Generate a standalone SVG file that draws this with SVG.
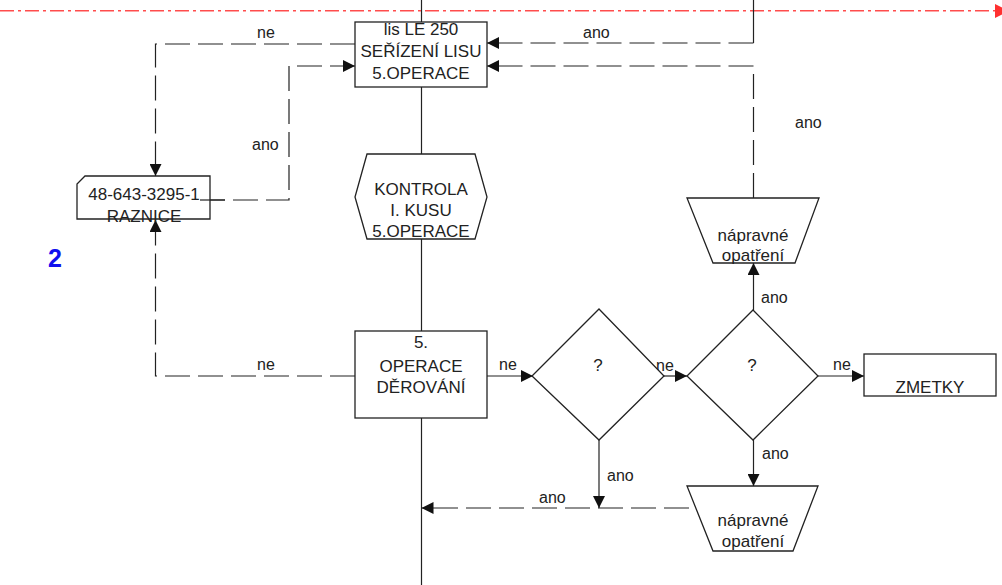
<svg xmlns="http://www.w3.org/2000/svg" width="1002" height="585" viewBox="0 0 1002 585">
<style>
.s{fill:#fff;stroke:#222;stroke-width:1.3}
.t{font-family:"Liberation Sans",Arial,sans-serif;font-size:17px;fill:#222;text-anchor:middle}
.l{font-family:"Liberation Sans",Arial,sans-serif;font-size:16px;fill:#222}
.c{fill:none;stroke:#222;stroke-width:1.2}
.d{fill:none;stroke:#222;stroke-width:1.2;stroke-dasharray:25 8}
.a{marker-end:url(#ah)}
</style>
<defs>
<marker id="ah" viewBox="0 0 12 12" refX="12" refY="6" markerWidth="12" markerHeight="12" markerUnits="userSpaceOnUse" orient="auto"><path d="M0,0 L12,6 L0,12 z" fill="#111"/></marker>
</defs>
<rect width="1002" height="585" fill="#fff"/>
<g id="connectors">
<line class="c" x1="421.5" y1="0" x2="421.5" y2="585"/>
<line x1="0" y1="10.7" x2="996" y2="10.7" stroke="#ff4d4d" stroke-width="1.5" stroke-dasharray="14 4 3 4"/>
<polygon points="995,4 1009,11 995,18" fill="#ff3030"/>
<line class="c" x1="753.5" y1="0" x2="753.5" y2="43"/>
<path class="d a" d="M753.5,43 H487"/>
<path class="d a" d="M753.5,198 V66 H487"/>
<path class="d a" d="M355,44 H155.5 V176"/>
<path class="d a" d="M200,200 H289 V66 H355"/>
<path class="d a" d="M355,376 H155.5 V220"/>
<path class="c a" d="M487,376 H533"/>
<path class="c a" d="M664,376 H687"/>
<path class="c a" d="M818,376 H864"/>
<path class="c a" d="M753.5,310 V263"/>
<path class="c a" d="M753.5,440 V486"/>
<path class="c a" d="M599,440 V508"/>
<path class="d a" d="M689,508 H421.5"/>
<text class="l" x="257" y="38">ne</text>
<text class="l" x="583" y="38">ano</text>
<text class="l" x="252" y="150">ano</text>
<text class="l" x="795" y="128">ano</text>
<text class="l" x="257" y="370">ne</text>
<text class="l" x="499" y="370">ne</text>
<text class="l" x="656" y="371">ne</text>
<text class="l" x="833" y="370">ne</text>
<text class="l" x="761" y="303">ano</text>
<text class="l" x="762" y="459">ano</text>
<text class="l" x="607" y="481">ano</text>
<text class="l" x="539" y="503">ano</text>
</g>
<g id="seriz">
<rect class="s" x="355" y="22" width="132" height="65"/>
<text class="t" x="421" y="35">lis LE 250</text>
<text class="t" x="421" y="57">SEŘÍZENÍ LISU</text>
<text class="t" x="421" y="79">5.OPERACE</text>
</g>
<g id="raznice">
<polygon class="s" points="85,176 210,176 210,219 77,219 77,184"/>
<text class="t" x="144" y="200">48-643-3295-1</text>
<text class="t" x="144" y="222">RAZNICE</text>
</g>
<line class="c" x1="200" y1="200" x2="225" y2="200"/>
<g id="kontrola">
<polygon class="s" points="367,154 475,154 487,197 475,239 367,239 355,197"/>
<text class="t" x="421" y="195">KONTROLA</text>
<text class="t" x="421" y="216">I. KUSU</text>
<text class="t" x="421" y="237">5.OPERACE</text>
</g>
<g id="derovani">
<rect class="s" x="355" y="331" width="132" height="87"/>
<text class="t" x="421" y="348">5.</text>
<text class="t" x="421" y="372">OPERACE</text>
<text class="t" x="421" y="393">DĚROVÁNÍ</text>
</g>
<g id="dec1">
<polygon class="s" points="599,309 664,376 599,440 532,376"/>
<text class="t" x="598" y="371">?</text>
</g>
<g id="dec2">
<polygon class="s" points="753,310 818,376 753,440 687,376"/>
<text class="t" x="752" y="371">?</text>
</g>
<g id="zmetky">
<rect class="s" x="864" y="354" width="132" height="42"/>
<text class="t" x="930" y="393">ZMETKY</text>
</g>
<g id="naprav1">
<polygon class="s" points="687,198 819,198 795,263 713,263"/>
<text class="t" x="753" y="241">nápravné</text>
<text class="t" x="753" y="261">opatření</text>
</g>
<g id="naprav2">
<polygon class="s" points="687,486 818,486 793,551 713,551"/>
<text class="t" x="753" y="526">nápravné</text>
<text class="t" x="753" y="547">opatření</text>
</g>
<text x="55" y="267" font-family="Liberation Sans,Arial,sans-serif" font-size="25" font-weight="bold" fill="#1010ee" text-anchor="middle">2</text>
</svg>
